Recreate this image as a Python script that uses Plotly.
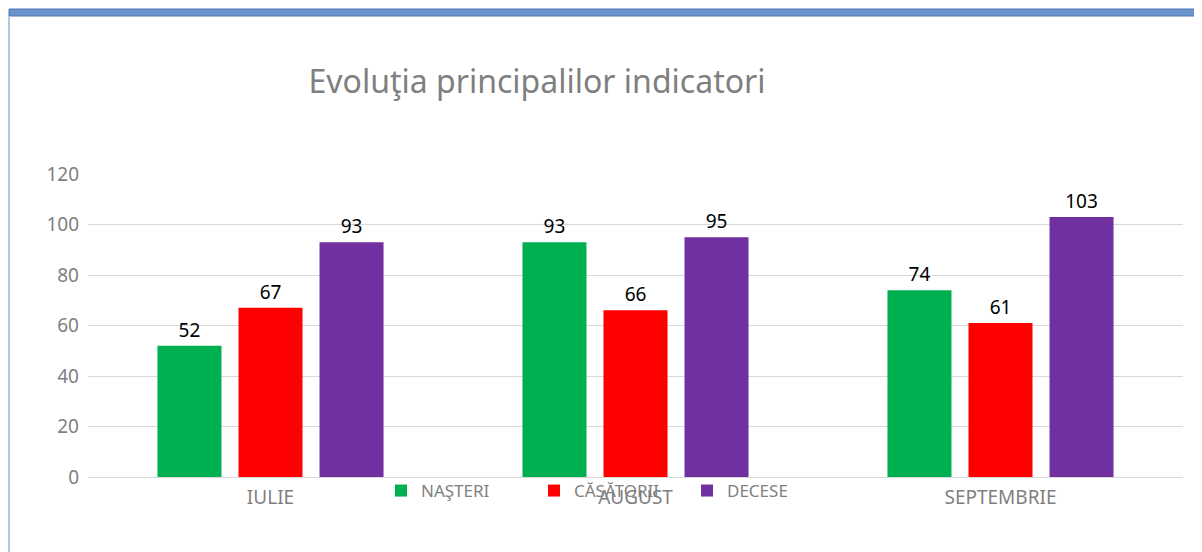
import plotly.graph_objects as go

months = ["IULIE", "AUGUST", "SEPTEMBRIE"]
series_names = ["NAŞTERI", "CĂSĂTORII", "DECESE"]
nasteri = [52, 93, 74]
casatorii = [67, 66, 61]
decese = [93, 95, 103]
colors = ["#00B050", "#FF0000", "#7030A0"]
y_ticks = [0, 20, 40, 60, 80, 100, 120]

# page has an 8px body margin, so the figure is drawn offset by (8, 8)
OFF = 8
W, H = 1202 - OFF, 552 - OFF
L, R, T, B = 88 - OFF, 19, 174 - OFF, 75
pw, ph = W - L - R, H - T - B

def px_x(px):
    return (px - OFF - L) / pw

def px_y(py):
    return (H - B - (py - OFF)) / ph

FONT = "Noto Sans"
fig = go.Figure()
for name, vals, col in zip(series_names, [nasteri, casatorii, decese], colors):
    fig.add_trace(go.Bar(
        x=months, y=vals, name=name, marker_color=col, marker_line_width=0,
        text=[str(v) for v in vals],
        textposition="outside",
        textfont=dict(family=FONT, size=19, color="#000000"),
        cliponaxis=False,
    ))

fig.update_layout(
    width=W, height=H,
    margin=dict(l=L, r=R, t=T, b=B, autoexpand=False),
    paper_bgcolor="white", plot_bgcolor="white",
    barmode="group", bargap=0.334, bargroupgap=0.21,
    title=dict(text="Evoluţia principalilor indicatori", x=px_x(537), xref="paper",
               xanchor="center", y=1 - (82 - OFF) / H, yanchor="middle",
               font=dict(family=FONT, size=32, color="#7F7F7F")),
    font=dict(family=FONT, color="#7F7F7F"),
    legend=dict(orientation="h", x=px_x(381), xanchor="left", y=px_y(491), yanchor="middle",
                font=dict(family=FONT, size=17, color="#7F7F7F"),
                entrywidth=108, entrywidthmode="pixels",
                bgcolor="rgba(0,0,0,0)", itemclick=False),
    showlegend=True,
)
fig.update_xaxes(showgrid=False, showline=True, linecolor="#D9D9D9", linewidth=1,
                 tickfont=dict(family=FONT, size=19, color="#7F7F7F"),
                 ticklabelstandoff=3)
fig.update_yaxes(range=[0, 120], tickvals=y_ticks, showgrid=True, gridcolor="#D9D9D9",
                 gridwidth=1, zeroline=True, zerolinecolor="#C8C8C8", zerolinewidth=1,
                 showline=False, ticks="", ticklabelstandoff=8,
                 tickfont=dict(family=FONT, size=19, color="#7F7F7F"))

# outer frame (blue top band and thin left edge)
fig.add_shape(type="rect", xref="paper", yref="paper",
              x0=px_x(9), x1=px_x(1204), y0=px_y(16), y1=px_y(9),
              fillcolor="#6A95CC", line=dict(color="#4F79B5", width=1), layer="above")
fig.add_shape(type="line", xref="paper", yref="paper",
              x0=px_x(9), x1=px_x(9), y0=px_y(16), y1=px_y(556),
              line=dict(color="#B4C7E0", width=2))

fig.write_html("out.html")
